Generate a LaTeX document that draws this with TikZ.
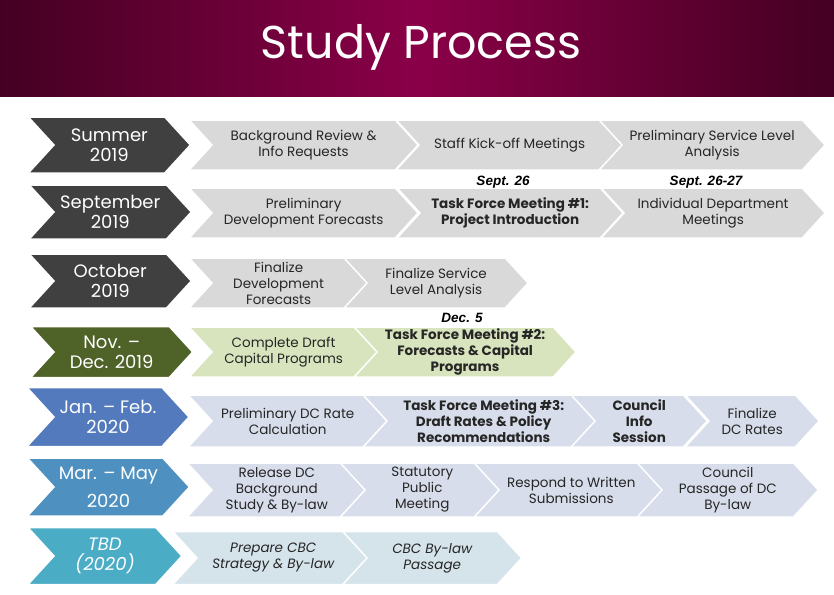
\documentclass[tikz,border=0pt]{standalone}
\usepackage{fontspec}
\setmainfont{Poppins}
\newfontfamily\datefont{Liberation Sans}
\usetikzlibrary{shapes.symbols}

\definecolor{titleedge}{RGB}{68,0,34}
\definecolor{titlemid}{RGB}{138,0,72}
\definecolor{periodgray}{RGB}{64,64,64}
\definecolor{stepgray}{RGB}{217,217,217}
\definecolor{periodolive}{RGB}{79,98,40}
\definecolor{stepgreen}{RGB}{215,228,189}
\definecolor{periodjan}{RGB}{82,122,188}
\definecolor{periodmar}{RGB}{78,145,192}
\definecolor{periodtbd}{RGB}{75,172,198}
\definecolor{steplilac}{RGB}{215,221,234}
\definecolor{stepice}{RGB}{213,227,234}

\tikzset{
  chev/.style={signal, signal from=west, signal to=east, signal pointer angle=95,
    draw=white, line width=1.5pt, align=center, inner sep=0pt, anchor=west},
  period/.style={chev, xshift=23pt, text=white, font=\fontsize{18}{20}\selectfont, minimum width=162pt},
  stepbox/.style={chev, xshift=21pt, text=black!85, font=\fontsize{13.5}{16}\selectfont},
  boldstep/.style={stepbox, font=\bfseries\fontsize{13.5}{16}\selectfont},
  datelabel/.style={font=\datefont\bfseries\itshape\fontsize{13.5}{14}\selectfont}
}

\begin{document}
\begin{tikzpicture}[x=1pt, y=-1pt]
\useasboundingbox (0,0) rectangle (834,594);
% title band
\shade[left color=titleedge, right color=titleedge, middle color=titlemid] (0,0) rectangle (834,96);
\node[text=white, font=\fontsize{46}{50}\selectfont] (title) at (421,47) {Study Process};

% Summer 2019
\node[period, fill=periodgray, minimum height=56pt] (summer) at (30,145) {Summer\\2019};
\node[stepbox, fill=stepgray, minimum width=229pt, minimum height=50pt] (s1) at (190,145) {Background Review \&\\Info Requests};
\node[stepbox, fill=stepgray, minimum width=227pt, minimum height=50pt] (s2) at (397,145) {Staff Kick-off Meetings};
\node[stepbox, fill=stepgray, minimum width=226pt, minimum height=50pt] (s3) at (600,145) {Preliminary Service Level\\Analysis};

% September 2019
\node[period, fill=periodgray, minimum height=54pt] (sept) at (30,212) {September\\2019};
\node[stepbox, fill=stepgray, minimum width=229pt, minimum height=50pt] (p1) at (190,213) {Preliminary\\Development Forecasts};
\node[boldstep, fill=stepgray, minimum width=226pt, minimum height=50pt] (p2) at (398,213) {Task Force Meeting \#1:\\Project Introduction};
\node[stepbox, fill=stepgray, minimum width=224pt, minimum height=50pt] (p3) at (602,213) {Individual Department\\Meetings};
\node[datelabel] (d1) at (503,182) {Sept. 26};
\node[datelabel] (d2) at (706,182) {Sept. 26-27};

% October 2019
\node[period, fill=periodgray, minimum height=54pt] (oct) at (30,281) {October\\2019};
\node[stepbox, fill=stepgray, minimum width=179pt, minimum height=50pt] (o1) at (190,283) {Finalize\\Development\\Forecasts};
\node[stepbox, fill=stepgray, minimum width=184pt, minimum height=50pt] (o2) at (345,283) {Finalize Service\\Level Analysis};

% Nov. - Dec. 2019
\node[period, fill=periodolive, minimum height=51pt] (nov) at (30,352) {Nov. --\\Dec. 2019};
\node[stepbox, fill=stepgreen, minimum width=189pt, minimum height=50pt] (n1) at (190,352) {Complete Draft\\Capital Programs};
\node[boldstep, fill=stepgreen, minimum width=222pt, minimum height=50pt] (n2) at (355,352) {Task Force Meeting \#2:\\Forecasts \& Capital\\Programs};
\node[datelabel] (d3) at (462,318) {Dec. 5};

% Jan. - Feb. 2020
\node[period, fill=periodjan, minimum height=59pt] (jan) at (30,417) {Jan. -- Feb.\\2020};
\node[stepbox, fill=steplilac, minimum width=199pt, minimum height=52pt] (j1) at (190,421) {Preliminary DC Rate\\Calculation};
\node[boldstep, fill=steplilac, minimum width=241pt, minimum height=52pt] (j2) at (365,421) {Task Force Meeting \#3:\\Draft Rates \& Policy\\Recommendations};
\node[boldstep, fill=steplilac, minimum width=136pt, minimum height=52pt] (j3) at (573,421) {Council\\Info\\Session};
\node[stepbox, fill=steplilac, minimum width=134pt, minimum height=52pt] (j4) at (687,421) {Finalize\\DC Rates};

% Mar. - May 2020
\node[period, fill=periodmar, minimum height=58pt, font=\fontsize{18}{28}\selectfont] (mar) at (30,487) {Mar. -- May\\2020};
\node[stepbox, fill=steplilac, minimum width=179pt, minimum height=54pt] (m1) at (190,490) {Release DC\\Background\\Study \& By-law};
\node[stepbox, fill=steplilac, minimum width=164pt, minimum height=54pt] (m2) at (343,490) {Statutory\\Public\\Meeting};
\node[stepbox, fill=steplilac, minimum width=194pt, minimum height=54pt] (m3) at (477,490) {Respond to Written\\Submissions};
\node[stepbox, fill=steplilac, minimum width=181pt, minimum height=54pt] (m4) at (640,490) {Council\\Passage of DC\\By-law};

% TBD (2020)
\node[period, fill=periodtbd, minimum height=57pt, minimum width=154pt, font=\itshape\fontsize{18}{20}\selectfont] (tbd) at (30,556) {TBD\\(2020)};
\node[stepbox, fill=stepice, minimum width=201pt, minimum height=53pt, font=\itshape\fontsize{13.5}{16}\selectfont] (t1) at (175,558) {Prepare CBC\\Strategy \& By-law};
\node[stepbox, fill=stepice, minimum width=179pt, minimum height=53pt, font=\itshape\fontsize{13.5}{16}\selectfont] (t2) at (345,558) {CBC By-law\\Passage};
\end{tikzpicture}
\end{document}
